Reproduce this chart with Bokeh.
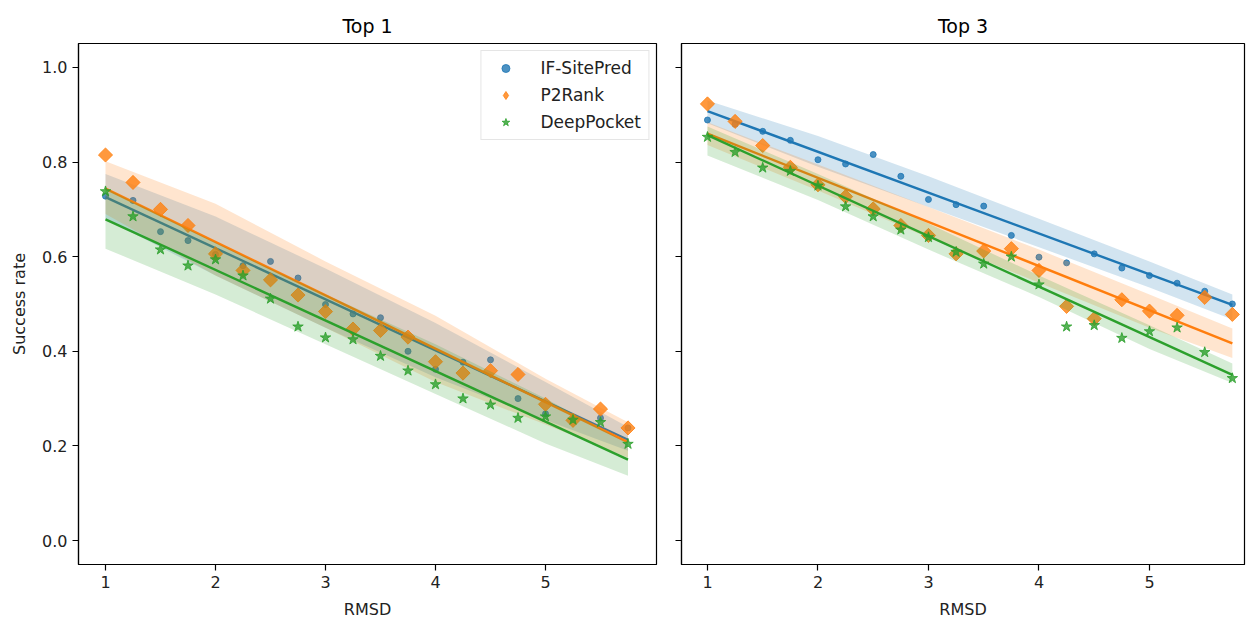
import math
from bokeh.plotting import figure
from bokeh.layouts import row
from bokeh.models import Range1d, FixedTicker, PrintfTickFormatter, Legend, LegendItem
from bokeh.embed import file_html
from bokeh.resources import INLINE

# ---------------- data ----------------
rmsd = [1.0, 1.25, 1.5, 1.75, 2.0, 2.25, 2.5, 2.75, 3.0, 3.25,
        3.5, 3.75, 4.0, 4.25, 4.5, 4.75, 5.0, 5.25, 5.5, 5.75]
methods = ["IF-SitePred", "P2Rank", "DeepPocket"]

top1_ifsite = [0.728, 0.719, 0.653, 0.634, 0.605, 0.581, 0.590, 0.555, 0.499, 0.479,
               0.471, 0.400, 0.362, 0.377, 0.382, 0.300, 0.268, 0.257, 0.259, 0.238]
top1_p2rank = [0.815, 0.757, 0.700, 0.666, 0.606, 0.571, 0.551, 0.519, 0.484, 0.447,
               0.444, 0.430, 0.378, 0.354, 0.359, 0.351, 0.288, 0.254, 0.278, 0.238]
top1_deeppocket = [0.738, 0.685, 0.615, 0.581, 0.594, 0.560, 0.511, 0.452, 0.429, 0.425,
                   0.390, 0.359, 0.330, 0.300, 0.287, 0.259, 0.262, 0.255, 0.250, 0.204]

top3_ifsite = [0.889, 0.880, 0.865, 0.846, 0.805, 0.796, 0.816, 0.770, 0.721, 0.710,
               0.707, 0.645, 0.599, 0.587, 0.606, 0.576, 0.560, 0.544, 0.527, 0.500]
top3_p2rank = [0.923, 0.886, 0.835, 0.789, 0.752, 0.727, 0.701, 0.666, 0.645, 0.606,
               0.612, 0.617, 0.571, 0.495, 0.469, 0.509, 0.485, 0.476, 0.514, 0.478]
top3_deeppocket = [0.853, 0.821, 0.788, 0.781, 0.750, 0.706, 0.685, 0.657, 0.641, 0.610,
                   0.585, 0.600, 0.541, 0.452, 0.455, 0.428, 0.442, 0.450, 0.398, 0.343]

# regression fit lines (value at RMSD 1 and 5.75)
fit_x = [1.0, 5.75]
top1_fit_ifsite = [0.726, 0.213]
top1_fit_p2rank = [0.744, 0.208]
top1_fit_deeppocket = [0.679, 0.171]
top3_fit_ifsite = [0.908, 0.498]
top3_fit_p2rank = [0.860, 0.417]
top3_fit_deeppocket = [0.857, 0.350]

# confidence bands
band_x = [1.0, 2.0, 3.0, 4.0, 5.0, 5.75]
top1_band_ifsite_lo = [0.680, 0.560, 0.450, 0.345, 0.255, 0.190]
top1_band_ifsite_hi = [0.775, 0.685, 0.575, 0.460, 0.335, 0.240]
top1_band_p2rank_lo = [0.690, 0.560, 0.450, 0.335, 0.245, 0.175]
top1_band_p2rank_hi = [0.802, 0.712, 0.590, 0.475, 0.342, 0.250]
top1_band_deeppocket_lo = [0.617, 0.520, 0.415, 0.310, 0.205, 0.137]
top1_band_deeppocket_hi = [0.745, 0.630, 0.520, 0.415, 0.300, 0.205]

top3_band_ifsite_lo = [0.882, 0.790, 0.705, 0.620, 0.535, 0.467]
top3_band_ifsite_hi = [0.930, 0.855, 0.770, 0.680, 0.590, 0.520]
top3_band_p2rank_lo = [0.836, 0.740, 0.640, 0.545, 0.450, 0.386]
top3_band_p2rank_hi = [0.884, 0.795, 0.705, 0.615, 0.520, 0.448]
top3_band_deeppocket_lo = [0.814, 0.720, 0.615, 0.515, 0.405, 0.333]
top3_band_deeppocket_hi = [0.875, 0.775, 0.670, 0.560, 0.455, 0.374]

y_ticks = [0.0, 0.2, 0.4, 0.6, 0.8, 1.0]
x_ticks = [1, 2, 3, 4, 5]

# ---------------- style ----------------
COLORS = ["#1f77b4", "#ff7f0e", "#2ca02c"]
MARKERS = ["circle", "square", "star"]
LEGEND_MARKERS = ["circle", "diamond", "star"]
SIZES = [6, 10, 11]
ANGLES = [0.0, math.pi / 4, 0.0]
FONT = "DejaVu Sans"


def style(p, show_ylabels):
    p.title.text_font = FONT
    p.title.text_font_size = "19px"
    p.title.text_font_style = "normal"
    p.title.align = "center"
    p.title.text_color = "#000000"
    p.title.standoff = 14
    p.xgrid.visible = False
    p.ygrid.visible = False
    p.outline_line_color = "#000000"
    p.outline_line_width = 1.2
    p.background_fill_color = "white"
    p.border_fill_color = "white"
    for ax in (p.xaxis[0], p.yaxis[0]):
        ax.axis_line_color = "#000000"
        ax.axis_line_width = 1.2
        ax.major_tick_line_color = "#000000"
        ax.major_tick_line_width = 1.2
        ax.major_tick_out = 6
        ax.major_tick_in = 0
        ax.minor_tick_line_color = None
        ax.major_label_text_font = FONT
        ax.major_label_text_font_size = "16px"
        ax.major_label_text_color = "#222222"
        ax.axis_label_text_font = FONT
        ax.axis_label_text_font_size = "16px"
        ax.axis_label_text_font_style = "normal"
        ax.axis_label_text_color = "#222222"
        ax.major_label_standoff = 5
    p.xaxis[0].ticker = FixedTicker(ticks=x_ticks)
    p.yaxis[0].ticker = FixedTicker(ticks=y_ticks)
    p.xaxis[0].axis_label = "RMSD"
    p.xaxis[0].axis_label_standoff = 9
    if show_ylabels:
        p.yaxis[0].formatter = PrintfTickFormatter(format="%.1f")
        p.yaxis[0].axis_label = "Success rate"
        p.yaxis[0].axis_label_standoff = 10
    else:
        p.yaxis[0].major_label_overrides = {t: "" for t in y_ticks}
        p.yaxis[0].major_label_standoff = 0


def panel(title, x_range, frame_w, bl, br, series, fits, bands, legend):
    p = figure(title=title, frame_width=frame_w, frame_height=521,
               min_border_left=bl, min_border_right=br,
               min_border_top=43, min_border_bottom=53,
               x_range=x_range, y_range=Range1d(-0.0507, 1.0507),
               output_backend="svg", toolbar_location=None)
    style(p, legend)
    items = []
    for i in range(3):
        p.scatter(rmsd, series[i], marker=MARKERS[i], size=SIZES[i],
                  angle=ANGLES[i],
                  fill_color=COLORS[i], line_color=COLORS[i],
                  fill_alpha=0.8, line_alpha=0.8, line_width=1)
        p.line(fit_x, fits[i], line_color=COLORS[i], line_width=2.4)
        lo, hi = bands[i]
        p.varea(x=band_x, y1=lo, y2=hi, fill_color=COLORS[i], fill_alpha=0.2)
        # legend glyph: same data at zero size (invisible in plot); the legend
        # sizes its marker from the legend box, showing the proper shape
        lr = p.scatter(rmsd, series[i], marker=LEGEND_MARKERS[i], size=0,
                       fill_color=COLORS[i], line_color=COLORS[i],
                       fill_alpha=0.8, line_alpha=0.8, line_width=1)
        items.append(LegendItem(label=methods[i], renderers=[lr]))
    if legend:
        lg = Legend(items=items, location="top_right")
        lg.label_text_font = FONT
        lg.label_text_font_size = "17px"
        lg.label_text_color = "#222222"
        lg.border_line_color = "#cccccc"
        lg.border_line_width = 1
        lg.background_fill_alpha = 0.8
        lg.margin = 7
        lg.padding = 7
        lg.spacing = 7
        lg.label_height = 20
        lg.glyph_height = 20
        lg.glyph_width = 34
        lg.label_standoff = 18
        p.add_layout(lg, "center")
    return p


p1 = panel("Top 1", Range1d(0.7545, 6.0091), 578, 78, 12,
           [top1_ifsite, top1_p2rank, top1_deeppocket],
           [top1_fit_ifsite, top1_fit_p2rank, top1_fit_deeppocket],
           [(top1_band_ifsite_lo, top1_band_ifsite_hi),
            (top1_band_p2rank_lo, top1_band_p2rank_hi),
            (top1_band_deeppocket_lo, top1_band_deeppocket_hi)], True)

p2 = panel("Top 3", Range1d(0.765, 5.86), 563, 13, 3,
           [top3_ifsite, top3_p2rank, top3_deeppocket],
           [top3_fit_ifsite, top3_fit_p2rank, top3_fit_deeppocket],
           [(top3_band_ifsite_lo, top3_band_ifsite_hi),
            (top3_band_p2rank_lo, top3_band_p2rank_hi),
            (top3_band_deeppocket_lo, top3_band_deeppocket_hi)], False)

layout = row(p1, p2)
open("out.html", "w").write(file_html(layout, INLINE))
